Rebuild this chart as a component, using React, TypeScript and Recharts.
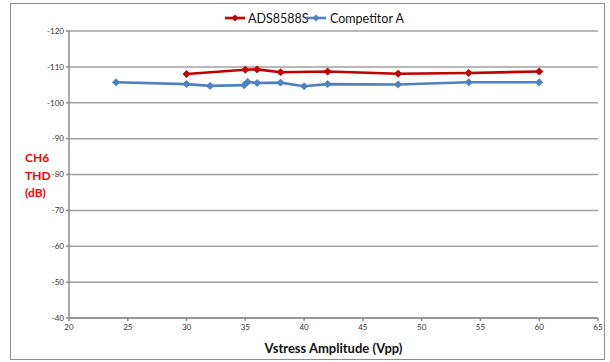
import React from 'react';
import { LineChart, Line, XAxis, YAxis, CartesianGrid } from 'recharts';

const adsX = [30, 35, 36, 38, 42, 48, 54, 60];
const adsY = [-108.0, -109.2, -109.3, -108.5, -108.7, -108.1, -108.3, -108.7];
const compX = [24, 30, 32, 34.9, 35.2, 36, 38, 40, 42, 48, 54, 60];
const compY = [-105.7, -105.2, -104.7, -104.9, -105.8, -105.5, -105.6, -104.6, -105.2, -105.1, -105.7, -105.7];
const xTicks = [20, 25, 30, 35, 40, 45, 50, 55, 60, 65];
const yTicks = [-120, -110, -100, -90, -80, -70, -60, -50, -40];
const seriesNames = ['ADS8588S', 'Competitor A'];
const RED = '#C00000';
const BLUE = '#4F81BD';

const adsData = adsX.map((x, i) => ({ x, y: adsY[i] }));
const compData = compX.map((x, i) => ({ x, y: compY[i] }));

const Diamond = (color: string) => (props: any) => {
  const { cx, cy, index } = props;
  if (cx == null || cy == null) return <g key={index} />;
  const s = 3.6;
  return (
    <path
      key={index}
      d={`M${cx},${cy - s} L${cx + s},${cy} L${cx},${cy + s} L${cx - s},${cy} Z`}
      fill={color}
      stroke={color}
      strokeWidth={0.8}
    />
  );
};

const LegendBox = () => {
  const items = [
    { name: seriesNames[0], color: RED, x1: 225, tx: 248 },
    { name: seriesNames[1], color: BLUE, x1: 306, tx: 330 },
  ];
  return (
    <svg width={610} height={30} style={{ display: 'block', position: 'absolute', left: 0, top: 6 }}>
      {items.map((it) => (
        <g key={it.name}>
          <line x1={it.x1} x2={it.x1 + 20} y1={12} y2={12} stroke={it.color} strokeWidth={2.6} />
          <path
            d={`M${it.x1 + 10},${12 - 3.6} L${it.x1 + 13.6},12 L${it.x1 + 10},${12 + 3.6} L${it.x1 + 6.4},12 Z`}
            fill={it.color}
          />
          <text x={it.tx} y={16.5} fontSize={12.5} fontFamily="Lato, 'Open Sans', sans-serif" fill="#111">
            {it.name}
          </text>
        </g>
      ))}
    </svg>
  );
};

export default function App() {
  return (
    <div style={{ position: 'absolute', left: 0, top: 0, width: 610, height: 362, background: '#fff' }}>
      <div
        style={{
          position: 'absolute',
          left: 10,
          top: 3,
          width: 593,
          height: 355,
          border: '1px solid #8c8c8c',
        }}
      />
      <div style={{ position: 'absolute', left: 0, top: 0 }}>
        <LineChart
          width={610}
          height={362}
          margin={{ top: 31, right: 12, left: 39, bottom: 0 }}
          style={{ fontFamily: "Lato, 'Open Sans', sans-serif" }}
        >
          <CartesianGrid vertical={false} stroke="#a0a0a0" strokeWidth={1.5} />
          <XAxis
            dataKey="x"
            type="number"
            domain={[20, 65]}
            ticks={xTicks}
            allowDuplicatedCategory={false}
            height={44}
            stroke="#8c8c8c"
            strokeWidth={1.5}
            tickSize={3}
            tickMargin={3}
            tick={{ fontSize: 8, fill: '#333' }}
            label={{
              value: 'Vstress Amplitude (Vpp)',
              position: 'insideBottom',
              offset: 9,
              style: { fontSize: 13, fontWeight: 700, fill: '#111' },
            }}
          />
          <YAxis
            type="number"
            domain={[-120, -40]}
            ticks={yTicks}
            reversed
            width={30}
            stroke="#8c8c8c"
            strokeWidth={1.5}
            tickSize={3}
            tickMargin={2}
            tick={{ fontSize: 8, fill: '#333' }}
          />
          <Line
            data={adsData}
            dataKey="y"
            name={seriesNames[0]}
            stroke={RED}
            strokeWidth={2.6}
            dot={Diamond(RED)}
            isAnimationActive={false}
          />
          <Line
            data={compData}
            dataKey="y"
            name={seriesNames[1]}
            stroke={BLUE}
            strokeWidth={2.6}
            dot={Diamond(BLUE)}
            isAnimationActive={false}
          />
        </LineChart>
      </div>
      <LegendBox />
      <div
        style={{
          position: 'absolute',
          left: 25,
          top: 149,
          color: '#FF0000',
          fontFamily: "Lato, 'Open Sans', sans-serif",
          fontWeight: 700,
          fontSize: 12,
          lineHeight: '17.5px',
        }}
      >
        CH6
        <br />
        THD
        <br />
        (dB)
      </div>
    </div>
  );
}
